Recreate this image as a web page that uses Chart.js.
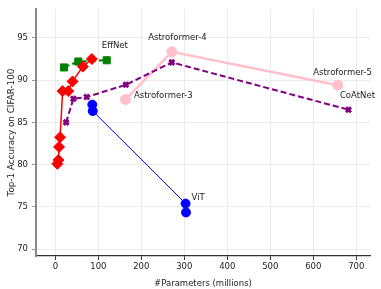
<!DOCTYPE html>
<html>
<head>
<meta charset="utf-8">
<script src="https://cdn.jsdelivr.net/npm/chart.js@4/dist/chart.umd.min.js"></script>
<style>
  html, body { margin: 0; padding: 0; background: #fff; }
  canvas { display: block; }
</style>
</head>
<body>
<canvas id="paramsChart" width="381" height="289"></canvas>
<script>
// values (params in millions, top-1 accuracy)
const effNetParams = [4.7, 7, 8.6, 11, 17, 30, 40, 64, 85];
const effNetAcc = [80.1, 80.55, 82.1, 83.25, 88.7, 88.7, 89.85, 91.6, 92.5];

const effNetV2Params = [20, 53.5, 119.5];
const effNetV2Acc = [91.5, 92.2, 92.35];

const vitParams = [86, 87, 303, 304];
const vitAcc = [87.1, 86.35, 75.4, 74.35];

const coAtNetParams = [25, 42, 73, 164, 271, 682];
const coAtNetAcc = [85.0, 87.8, 88.0, 89.45, 92.1, 86.5];

const astroParams = [163, 271, 657];
const astroAcc = [87.7, 93.35, 89.4];

// text labels placed in data coordinates
const labelText = ["EffNet", "Astroformer-4", "Astroformer-3", "Astroformer-5", "CoAtNet", "ViT"];
const labelX = [108, 216, 183, 600, 662, 317];
const labelY = [94.1, 95.0, 88.1, 90.9, 88.2, 76.1];

const xTicks = [0, 100, 200, 300, 400, 500, 600, 700];
const yTicks = [70, 75, 80, 85, 90, 95];

const FONT = "'DejaVu Sans', sans-serif";

function toPoints(xs, ys) {
  return xs.map((x, i) => ({ x: x, y: ys[i] }));
}

const textLabels = {
  id: "textLabels",
  afterDatasetsDraw(chart) {
    const ctx = chart.ctx;
    const xs = chart.scales.x;
    const ys = chart.scales.y;
    ctx.save();
    ctx.font = "8.5px " + FONT;
    ctx.fillStyle = "#222";
    ctx.textAlign = "left";
    ctx.textBaseline = "middle";
    labelText.forEach((t, i) => {
      ctx.fillText(t, xs.getPixelForValue(labelX[i]), ys.getPixelForValue(labelY[i]));
    });
    ctx.restore();
  },
};

const ctx = document.getElementById("paramsChart").getContext("2d");
new Chart(ctx, {
  type: "scatter",
  data: {
    datasets: [
      {
        label: "EffNet",
        data: toPoints(effNetParams, effNetAcc),
        showLine: true,
        borderColor: "red",
        backgroundColor: "red",
        borderWidth: 1.5,
        pointStyle: "rectRot",
        pointRadius: 5.5,
        pointBorderWidth: 1,
      },
      {
        label: "EffNetV2",
        data: toPoints(effNetV2Params, effNetV2Acc),
        showLine: true,
        borderColor: "green",
        backgroundColor: "green",
        borderWidth: 2,
        borderDash: [6, 3],
        pointStyle: "rect",
        pointRadius: 5,
        pointBorderWidth: 1,
      },
      {
        label: "ViT",
        data: toPoints(vitParams, vitAcc),
        showLine: true,
        borderColor: "blue",
        backgroundColor: "blue",
        borderWidth: 1,
        pointStyle: "circle",
        pointRadius: 4.5,
        pointBorderWidth: 1,
      },
      {
        label: "CoAtNet",
        data: toPoints(coAtNetParams, coAtNetAcc),
        showLine: true,
        borderColor: "purple",
        backgroundColor: "purple",
        borderWidth: 2,
        borderDash: [6, 3],
        pointStyle: "crossRot",
        pointRadius: 3.5,
        pointBorderWidth: 3,
      },
      {
        label: "Astroformer",
        data: toPoints(astroParams, astroAcc),
        showLine: true,
        borderColor: "pink",
        backgroundColor: "pink",
        borderWidth: 2.5,
        pointStyle: "circle",
        pointRadius: 5,
        pointBorderWidth: 1,
      },
    ],
  },
  options: {
    responsive: false,
    animation: false,
    devicePixelRatio: 1,
    layout: { padding: { top: 6, right: 11, left: 0, bottom: 0 } },
    plugins: {
      legend: { display: false },
      tooltip: { enabled: false },
    },
    scales: {
      x: {
        type: "linear",
        min: -45,
        max: 732,
        afterFit: (scale) => { scale.height = 33; },
        afterBuildTicks: (scale) => { scale.ticks = xTicks.map((v) => ({ value: v })); },
        ticks: {
          font: { family: FONT, size: 8.5 },
          color: "#222",
          padding: 2,
          maxRotation: 0,
        },
        grid: {
          color: "#ebebeb",
          lineWidth: 1,
          tickColor: "#333",
          tickLength: 4,
        },
        border: { display: true, color: "#333", width: 1.3 },
        title: {
          display: true,
          text: "#Parameters (millions)",
          font: { family: FONT, size: 8.5 },
          color: "#222",
          padding: { top: 0, bottom: 0 },
        },
      },
      y: {
        type: "linear",
        min: 69.2,
        max: 98.4,
        afterFit: (scale) => { scale.width = 36; },
        afterBuildTicks: (scale) => { scale.ticks = yTicks.map((v) => ({ value: v })); },
        ticks: {
          font: { family: FONT, size: 8.5 },
          color: "#222",
          padding: 4,
        },
        grid: {
          color: "#ebebeb",
          lineWidth: 1,
          tickColor: "#999",
          tickLength: 4,
        },
        border: { display: true, color: "#888", width: 2 },
        title: {
          display: true,
          text: "Top-1 Accuracy on CIFAR-100",
          font: { family: FONT, size: 8.8 },
          color: "#222",
          padding: { top: 6, bottom: 0 },
        },
      },
    },
  },
  plugins: [textLabels],
});
</script>
</body>
</html>
